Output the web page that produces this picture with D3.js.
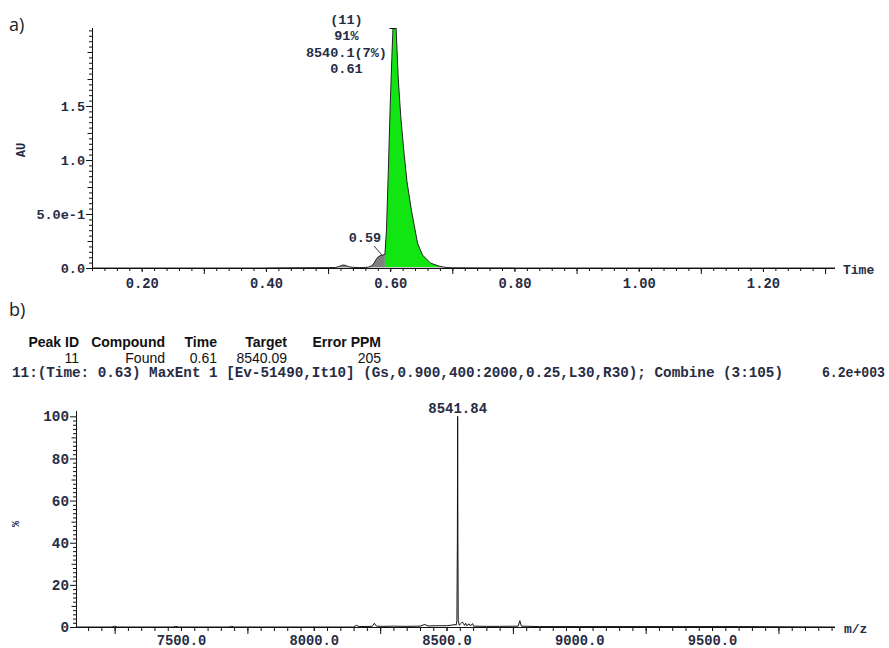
<!DOCTYPE html>
<html>
<head>
<meta charset="utf-8">
<script src="https://cdn.jsdelivr.net/npm/d3@7"></script>
<style>
  body { margin: 0; background: #fff; }
  .mono { font-family: 'Liberation Mono', 'DejaVu Sans Mono', monospace; font-weight: bold; fill: #262c44; }
  .tick line, .domain { stroke: #111; }
</style>
</head>
<body>
<svg id="chart" width="889" height="648"></svg>
<script>
// ---- a) chromatogram (time, AU)
const chromTime = [0.12, 0.40, 0.45, 0.50, 0.512, 0.518, 0.522, 0.525, 0.528, 0.533, 0.54, 0.55, 0.56, 0.565,
  0.570, 0.574, 0.577, 0.580, 0.584, 0.588, 0.5915, 0.594, 0.597, 0.600, 0.603, 0.6045, 0.607, 0.6095,
  0.613, 0.617, 0.6225, 0.627, 0.634, 0.644, 0.652, 0.665, 0.68, 0.69, 0.70, 0.75, 1.316]
const chromAU = [0, 0, 0.002, 0.003, 0.005, 0.015, 0.024, 0.028, 0.024, 0.012, 0.006, 0.004, 0.005, 0.008,
  0.02, 0.045, 0.075, 0.1, 0.115, 0.12, 0.125, 0.35, 0.9, 1.5, 2.0, 2.22, 2.5, 2.22,
  1.75, 1.4, 1.05, 0.8, 0.54, 0.23, 0.12, 0.045, 0.015, 0.005, 0.002, 0, 0]

// integrated peaks: start / end time, main peak flag
const peakStart = [0.512, 0.565, 0.5915]
const peakEnd = [0.54, 0.5915, 0.70]
const peakMain = [false, false, true]

const mainPeakLabels = ['(11)', '91%', '8540.1(7%)', '0.61']
const mainPeakTime = 0.61
const shoulderLabel = '0.59'
const shoulderTime = 0.59

const xTicksTop = [0.20, 0.40, 0.60, 0.80, 1.00, 1.20]
const yTicksTop = [0, 0.5, 1.0, 1.5]
const yTickLabelsTop = ['0.0', '5.0e-1', '1.0', '1.5']

// ---- b) report table + deconvoluted spectrum
const tableHeaders = ['Peak ID', 'Compound', 'Time', 'Target', 'Error PPM']
const tableValues = ['11', 'Found', '0.61', '8540.09', '205']
const specTitle = '11:(Time: 0.63) MaxEnt 1 [Ev-51490,It10] (Gs,0.900,400:2000,0.25,L30,R30); Combine (3:105)'
const specMax = '6.2e+003'

const specMz = [7105, 7240, 7250, 7260, 7470, 7480, 7490, 7680, 7690, 7700, 8150, 8160, 8170, 8220, 8228, 8236,
  8260, 8300, 8340, 8400, 8418, 8430, 8460, 8500, 8520, 8532, 8536, 8539, 8540.8, 8541.84, 8542.8, 8544,
  8548, 8552, 8556, 8560, 8564, 8568, 8572, 8576, 8585, 8590, 8598, 8602, 8650, 8700, 8770, 8776, 8782,
  8850, 9000, 9300, 9600, 9963]
const specInt = [0, 0, 0.4, 0, 0, 0.3, 0, 0, 0.3, 0, 0, 0.8, 0.2, 0.3, 1.8, 0.4,
  0.3, 0.4, 0.3, 0.4, 1.2, 0.5, 0.6, 0.6, 0.9, 1.2, 0.8, 3, 40, 100, 40, 3,
  0.8, 1.5, 2.0, 2.3, 1.5, 0.8, 1.8, 0.6, 1.5, 0.5, 1.6, 0.4, 0.3, 0.3, 0.4, 3.0, 0.4,
  0.2, 0.2, 0.2, 0.2, 0]
const peakMz = 8541.84
const xTicksBottom = [7500, 8000, 8500, 9000, 9500]
const yTicksBottom = [0, 20, 40, 60, 80, 100]

const svg = d3.select('#chart')

// panel letters
svg.append('text').attr('x', 9).attr('y', 31)
  .style('font-family', "'Open Sans', sans-serif").style('font-size', '18px').style('fill', '#222')
  .text('a)')
svg.append('text').attr('x', 9).attr('y', 316)
  .style('font-family', "'Open Sans', sans-serif").style('font-size', '18px').style('fill', '#222')
  .text('b)')

// ================= a) =================
const xT = d3.scaleLinear().domain([0.12, 1.316]).range([92, 835])
const yT = d3.scaleLinear().domain([0, 2.222]).range([268, 28])

const chrom = chromTime.map((t, i) => ({ t: t, v: chromAU[i] }))

svg.append('clipPath').attr('id', 'clipTop')
  .append('rect').attr('x', 92).attr('y', 28).attr('width', 743).attr('height', 240)

const gTop = svg.append('g').attr('clip-path', 'url(#clipTop)')

const areaT = d3.area()
  .x(d => xT(d.t))
  .y0(yT(0))
  .y1(d => yT(d.v))

peakStart.forEach((s, i) => {
  const seg = chrom.filter(d => d.t >= s && d.t <= peakEnd[i])
  gTop.append('path')
    .datum(seg)
    .attr('d', areaT)
    .attr('fill', peakMain[i] ? '#12e612' : '#7f7f7f')
})

// light baseline drift
gTop.append('line')
  .attr('x1', xT(0.40)).attr('x2', xT(0.80))
  .attr('y1', yT(0) - 0.5).attr('y2', yT(0) - 0.5)
  .attr('stroke', '#ccc').attr('stroke-width', 1)

gTop.append('path')
  .datum(chrom)
  .attr('d', d3.line().x(d => xT(d.t)).y(d => yT(d.v)))
  .attr('fill', 'none')
  .attr('stroke', '#222')
  .attr('stroke-width', 1)

// peak top marker
svg.append('path')
  .attr('d', `M${xT(0.599)},${yT(2.222) + 0.5}H${xT(0.6095)}`)
  .attr('fill', 'none').attr('stroke', '#111')

// y axis (top)
const yMinorTop = d3.range(0, 2.2201, 0.05).filter(v => Math.abs(v / 0.25 - Math.round(v / 0.25)) > 1e-6)
const yMidTop = [0.25, 0.75, 1.25, 1.75, 2.0]
svg.append('g').attr('transform', 'translate(92,0)')
  .call(d3.axisLeft(yT).tickValues(yMinorTop).tickSize(3).tickFormat(''))
  .call(g => g.select('.domain').remove())
svg.append('g').attr('transform', 'translate(92,0)')
  .call(d3.axisLeft(yT).tickValues(yMidTop).tickSize(4.5).tickFormat(''))
  .call(g => g.select('.domain').remove())
svg.append('g').attr('transform', 'translate(92,0)')
  .call(d3.axisLeft(yT).tickValues(yTicksTop).tickSize(6).tickPadding(1)
    .tickFormat((d, i) => yTickLabelsTop[i]))
  .call(g => g.select('.domain').attr('d', 'M0.5,28V268.5'))
  .call(g => g.selectAll('text').attr('class', 'mono').style('font-size', '13.5px'))

// x axis (top)
const xMinorTop = d3.range(0.12, 1.3101, 0.02)
const xLongTop = [0.3, 0.5, 0.7, 0.9, 1.1, 1.3]
svg.append('g').attr('transform', 'translate(0,268)')
  .call(d3.axisBottom(xT).tickValues(xMinorTop).tickSize(3).tickFormat(''))
  .call(g => g.select('.domain').remove())
svg.append('g').attr('transform', 'translate(0,268)')
  .call(d3.axisBottom(xT).tickValues(xLongTop).tickSize(6).tickFormat(''))
  .call(g => g.select('.domain').remove())
svg.append('g').attr('transform', 'translate(0,268)')
  .call(d3.axisBottom(xT).tickValues(xTicksTop).tickSize(4).tickPadding(6)
    .tickFormat(d3.format('.2f')))
  .call(g => g.select('.domain').attr('d', 'M92,0.5H835'))
  .call(g => g.selectAll('text').attr('class', 'mono').style('font-size', '13.8px'))

svg.append('text').attr('class', 'mono').attr('x', 843).attr('y', 274)
  .style('font-size', '13px').text('Time')
svg.append('text').attr('class', 'mono')
  .attr('transform', 'translate(25,150) rotate(-90)')
  .attr('text-anchor', 'middle').style('font-size', '12px').text('AU')

// peak annotations
mainPeakLabels.forEach((s, i) => {
  svg.append('text').attr('class', 'mono')
    .attr('x', xT(mainPeakTime) - 50).attr('y', 23.5 + i * 16.5)
    .attr('text-anchor', 'middle').style('font-size', '13.5px').text(s)
})
svg.append('text').attr('class', 'mono')
  .attr('x', xT(shoulderTime) - 19).attr('y', 242)
  .attr('text-anchor', 'middle').style('font-size', '13.5px').text(shoulderLabel)
svg.append('line')
  .attr('x1', xT(shoulderTime) - 10).attr('y1', 246)
  .attr('x2', xT(shoulderTime) - 2).attr('y2', 255)
  .attr('stroke', '#333')

// ================= b) =================
const colRight = [79, 165, 217, 287, 381]
tableHeaders.forEach((h, i) => {
  svg.append('text').attr('x', colRight[i]).attr('y', 347).attr('text-anchor', 'end')
    .style('font-family', "'Liberation Sans', Arial, sans-serif").style('font-weight', 'bold')
    .style('font-size', '14px').style('fill', '#111').text(h)
  svg.append('text').attr('x', colRight[i]).attr('y', 363).attr('text-anchor', 'end')
    .style('font-family', "'Liberation Sans', Arial, sans-serif")
    .style('font-size', '14px').style('fill', '#111').text(tableValues[i])
})
svg.append('text').attr('class', 'mono').attr('x', 12).attr('y', 377)
  .attr('textLength', 771).attr('lengthAdjust', 'spacingAndGlyphs')
  .style('font-size', '14px').style('white-space', 'pre').text(specTitle)
svg.append('text').attr('class', 'mono').attr('x', 822).attr('y', 377)
  .attr('textLength', 63).attr('lengthAdjust', 'spacingAndGlyphs')
  .style('font-size', '14px').text(specMax)

const xB = d3.scaleLinear().domain([7104.5, 9963]).range([76, 835])
const yB = d3.scaleLinear().domain([0, 103]).range([627, 410])

const spec = specMz.map((m, i) => ({ m: m, v: specInt[i] }))

svg.append('path')
  .datum(spec)
  .attr('d', d3.line().x(d => xB(d.m)).y(d => yB(d.v)))
  .attr('fill', 'none')
  .attr('stroke', '#111')
  .attr('stroke-width', 1)

svg.append('text').attr('class', 'mono')
  .attr('x', xB(peakMz)).attr('y', 413)
  .attr('text-anchor', 'middle').style('font-size', '14px').text(d3.format('.2f')(peakMz))

// y axis (bottom)
const yMinorB = d3.range(0, 102, 2).filter(v => v % 10 !== 0)
const yMidB = [10, 30, 50, 70, 90]
svg.append('g').attr('transform', 'translate(76,0)')
  .call(d3.axisLeft(yB).tickValues(yMinorB).tickSize(3).tickFormat(''))
  .call(g => g.select('.domain').remove())
svg.append('g').attr('transform', 'translate(76,0)')
  .call(d3.axisLeft(yB).tickValues(yMidB).tickSize(4.5).tickFormat(''))
  .call(g => g.select('.domain').remove())
svg.append('g').attr('transform', 'translate(76,0)')
  .call(d3.axisLeft(yB).tickValues(yTicksBottom).tickSize(6).tickPadding(1).tickFormat(d3.format('d')))
  .call(g => g.select('.domain').attr('d', 'M0.5,411V627.5'))
  .call(g => g.selectAll('text').attr('class', 'mono').style('font-size', '14.3px'))

// x axis (bottom)
const xMinorB = d3.range(7150, 9951, 50)
const xLongB = [7250, 7750, 8250, 8750, 9250, 9750]
svg.append('g').attr('transform', 'translate(0,627)')
  .call(d3.axisBottom(xB).tickValues(xMinorB).tickSize(4).tickFormat(''))
  .call(g => g.select('.domain').remove())
svg.append('g').attr('transform', 'translate(0,627)')
  .call(d3.axisBottom(xB).tickValues(xLongB).tickSize(7).tickFormat(''))
  .call(g => g.select('.domain').remove())
svg.append('g').attr('transform', 'translate(0,627)')
  .call(d3.axisBottom(xB).tickValues(xTicksBottom).tickSize(4).tickPadding(4.5).tickFormat(d3.format('.1f')))
  .call(g => g.select('.domain').attr('d', 'M76,0.5H835'))
  .call(g => g.selectAll('text').attr('class', 'mono').style('font-size', '13.8px'))

svg.append('text').attr('class', 'mono').attr('x', 844).attr('y', 633)
  .style('font-size', '13px').text('m/z')
svg.append('text').attr('class', 'mono')
  .attr('transform', 'translate(19,524) rotate(-90)')
  .attr('text-anchor', 'middle').style('font-size', '10px').text('%')
</script>
</body>
</html>
